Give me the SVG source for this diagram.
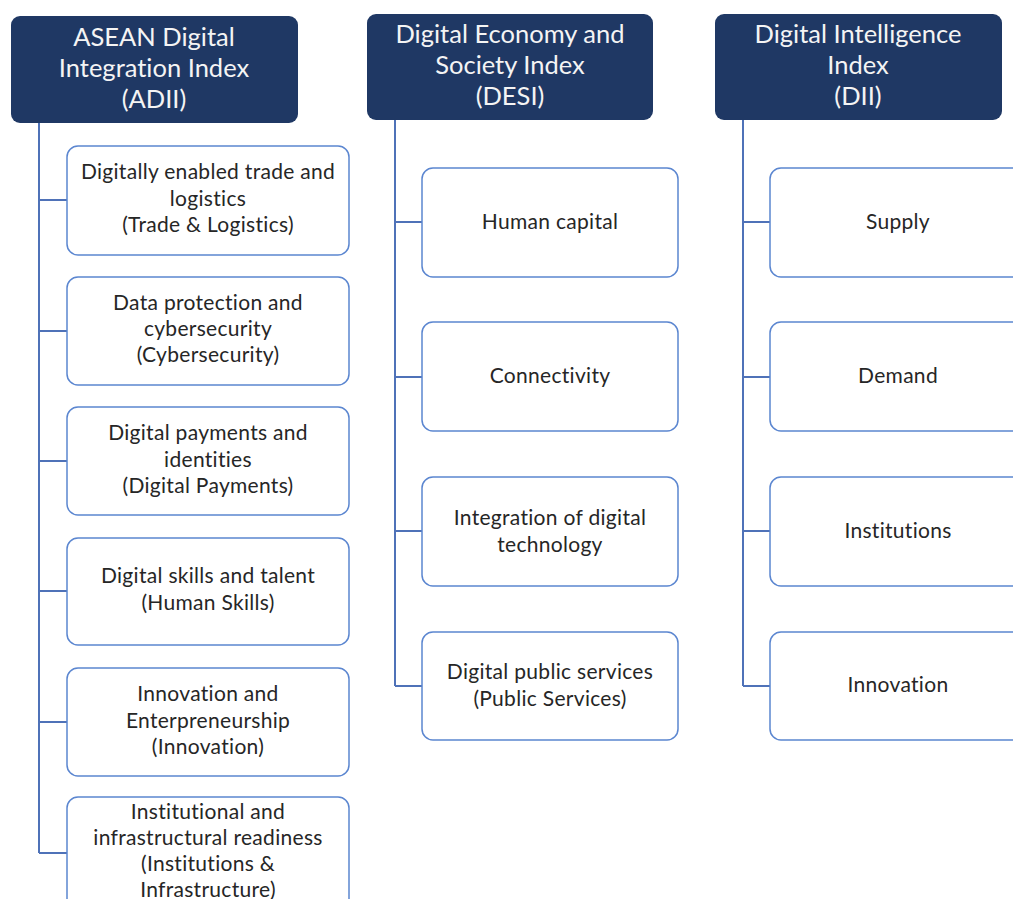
<svg xmlns="http://www.w3.org/2000/svg" width="1013" height="899" viewBox="0 0 1013 899">
  <style>
    .head rect { fill: #1f3864; stroke: none; }
    .head text { fill: #f4f4f4; font-family: Lato, "Liberation Sans", sans-serif; font-size: 25.5px; text-anchor: middle; font-variant-ligatures: none; }
    .item rect { fill: #ffffff; stroke: #5b86d0; stroke-width: 1.5; }
    .item text { fill: #262626; font-family: Lato, "Liberation Sans", sans-serif; font-size: 21px; letter-spacing: 0.3px; text-anchor: middle; font-variant-ligatures: none; }
    .link { fill: none; stroke: #4f72b8; stroke-width: 2; }
  </style>
  <rect width="1013" height="899" fill="#ffffff"/>

  <!-- connectors -->
  <g id="connectors">
    <path class="link" d="M39 123 V853 M39 200 H67 M39 331 H67 M39 461 H67 M39 591 H67 M39 722 H67 M39 853 H67"/>
    <path class="link" d="M395 120 V686 M395 222 H422 M395 377 H422 M395 531 H422 M395 686 H422"/>
    <path class="link" d="M743 120 V686 M743 222 H770 M743 377 H770 M743 531 H770 M743 686 H770"/>
  </g>

  <!-- index headers -->
  <g id="adii" class="head">
    <rect x="11" y="16" width="287" height="107" rx="9"/>
    <text x="154" y="46">ASEAN Digital</text>
    <text x="154" y="77">Integration Index</text>
    <text x="154" y="108">(ADII)</text>
  </g>
  <g id="desi" class="head">
    <rect x="367" y="14" width="286" height="106" rx="9"/>
    <text x="510" y="43">Digital Economy and</text>
    <text x="510" y="74">Society Index</text>
    <text x="510" y="105">(DESI)</text>
  </g>
  <g id="dii" class="head">
    <rect x="715" y="14" width="287" height="106" rx="9"/>
    <text x="858" y="43">Digital Intelligence</text>
    <text x="858" y="74">Index</text>
    <text x="858" y="105">(DII)</text>
  </g>

  <!-- ADII pillars -->
  <g id="adii-trade" class="item">
    <rect x="67" y="146" width="282" height="109" rx="11"/>
    <text x="208" y="179">Digitally enabled trade and</text>
    <text x="208" y="206">logistics</text>
    <text x="208" y="232">(Trade &amp; Logistics)</text>
  </g>
  <g id="adii-cyber" class="item">
    <rect x="67" y="277" width="282" height="108" rx="11"/>
    <text x="208" y="310">Data protection and</text>
    <text x="208" y="336">cybersecurity</text>
    <text x="208" y="362">(Cybersecurity)</text>
  </g>
  <g id="adii-payments" class="item">
    <rect x="67" y="407" width="282" height="108" rx="11"/>
    <text x="208" y="440">Digital payments and</text>
    <text x="208" y="467">identities</text>
    <text x="208" y="493">(Digital Payments)</text>
  </g>
  <g id="adii-skills" class="item">
    <rect x="67" y="538" width="282" height="107" rx="11"/>
    <text x="208" y="583">Digital skills and talent</text>
    <text x="208" y="610">(Human Skills)</text>
  </g>
  <g id="adii-innovation" class="item">
    <rect x="67" y="668" width="282" height="108" rx="11"/>
    <text x="208" y="701">Innovation and</text>
    <text x="208" y="728">Enterpreneurship</text>
    <text x="208" y="754">(Innovation)</text>
  </g>
  <g id="adii-institutions" class="item">
    <rect x="67" y="797" width="282" height="120" rx="11"/>
    <text x="208" y="819">Institutional and</text>
    <text x="208" y="845">infrastructural readiness</text>
    <text x="208" y="871">(Institutions &amp;</text>
    <text x="208" y="897">Infrastructure)</text>
  </g>

  <!-- DESI dimensions -->
  <g id="desi-human" class="item">
    <rect x="422" y="168" width="256" height="109" rx="11"/>
    <text x="550" y="229">Human capital</text>
  </g>
  <g id="desi-connectivity" class="item">
    <rect x="422" y="322" width="256" height="109" rx="11"/>
    <text x="550" y="383">Connectivity</text>
  </g>
  <g id="desi-integration" class="item">
    <rect x="422" y="477" width="256" height="109" rx="11"/>
    <text x="550" y="525">Integration of digital</text>
    <text x="550" y="552">technology</text>
  </g>
  <g id="desi-public" class="item">
    <rect x="422" y="632" width="256" height="108" rx="11"/>
    <text x="550" y="679">Digital public services</text>
    <text x="550" y="706">(Public Services)</text>
  </g>

  <!-- DII pillars -->
  <g id="dii-supply" class="item">
    <rect x="770" y="168" width="260" height="109" rx="11"/>
    <text x="898" y="229">Supply</text>
  </g>
  <g id="dii-demand" class="item">
    <rect x="770" y="322" width="260" height="109" rx="11"/>
    <text x="898" y="383">Demand</text>
  </g>
  <g id="dii-institutions" class="item">
    <rect x="770" y="477" width="260" height="109" rx="11"/>
    <text x="898" y="538">Institutions</text>
  </g>
  <g id="dii-innovation" class="item">
    <rect x="770" y="632" width="260" height="108" rx="11"/>
    <text x="898" y="692">Innovation</text>
  </g>
</svg>
